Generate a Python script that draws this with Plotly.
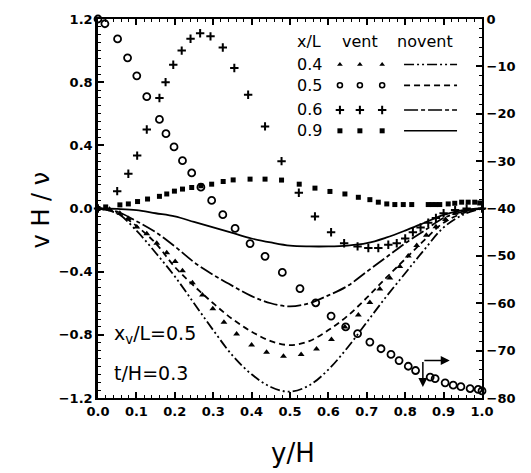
import plotly.graph_objects as go

# ---- vent data (symbols) ----
tri_x = [0.0, 0.03, 0.057, 0.079, 0.101, 0.127, 0.153, 0.179, 0.201, 0.220, 0.246, 0.272, 0.299, 0.328,
         0.361, 0.400, 0.439, 0.483, 0.529, 0.569, 0.608, 0.643, 0.678, 0.708, 0.734, 0.760, 0.786, 0.808,
         0.830, 0.855, 0.880, 0.905, 0.930, 0.960, 1.0]
tri_y = [0.0, -0.005, -0.03, -0.064, -0.117, -0.16, -0.22, -0.28, -0.335, -0.394, -0.47, -0.548, -0.635,
         -0.72, -0.795, -0.865, -0.91, -0.935, -0.925, -0.89, -0.83, -0.75, -0.675, -0.596, -0.51, -0.44,
         -0.367, -0.30, -0.235, -0.17, -0.115, -0.07, -0.03, -0.01, 0.0]

# x/L = 0.5 vent, read on the right-hand axis
circ_x = [0.0, 0.018, 0.051, 0.077, 0.101, 0.127, 0.160, 0.177, 0.198, 0.220, 0.244, 0.268, 0.296, 0.325,
          0.357, 0.396, 0.435, 0.480, 0.526, 0.567, 0.607, 0.645, 0.676, 0.708, 0.737, 0.763, 0.784, 0.808,
          0.827, 0.865, 0.878, 0.904, 0.925, 0.945, 0.969, 0.990, 1.0]
circ_y = [0.0, -1.0, -4.2, -8.2, -12.0, -16.4, -21.2, -24.2, -27.0, -29.9, -32.5, -35.5, -38.3, -41.3,
          -44.2, -47.4, -50.1, -53.5, -56.9, -59.9, -62.7, -65.0, -66.4, -68.2, -69.6, -70.8, -72.1, -73.3,
          -74.2, -75.6, -75.9, -76.8, -77.3, -77.6, -78.0, -78.2, -78.5]

plus_x = [0.0, 0.05, 0.079, 0.102, 0.127, 0.160, 0.176, 0.196, 0.218, 0.241, 0.266, 0.293, 0.325, 0.355,
          0.391, 0.435, 0.478, 0.523, 0.565, 0.607, 0.641, 0.676, 0.704, 0.730, 0.756, 0.778, 0.800, 0.820,
          0.840, 0.860, 0.880, 0.900, 0.930, 0.960, 1.0]
plus_y = [0.0, 0.11, 0.22, 0.335, 0.50, 0.70, 0.80, 0.91, 1.00, 1.075, 1.11, 1.09, 1.02, 0.89, 0.72, 0.52,
          0.30, 0.10, -0.05, -0.15, -0.22, -0.24, -0.25, -0.25, -0.23, -0.22, -0.19, -0.15, -0.12, -0.09,
          -0.06, -0.03, -0.01, 0.0, 0.0]

sq_x = [0.0, 0.02, 0.057, 0.079, 0.103, 0.129, 0.160, 0.179, 0.199, 0.220, 0.244, 0.268, 0.296, 0.326,
        0.352, 0.396, 0.435, 0.478, 0.524, 0.565, 0.604, 0.643, 0.678, 0.708, 0.730, 0.752, 0.773, 0.795,
        0.817, 0.860, 0.870, 0.880, 0.890, 0.912, 0.929, 0.947, 0.964, 0.981, 0.994]
sq_y = [0.0, 0.01, 0.023, 0.029, 0.044, 0.06, 0.077, 0.092, 0.11, 0.123, 0.133, 0.144, 0.154, 0.171,
        0.181, 0.186, 0.186, 0.18, 0.154, 0.129, 0.108, 0.092, 0.071, 0.056, 0.04, 0.029, 0.025, 0.025,
        0.025, 0.025, 0.025, 0.025, 0.025, 0.029, 0.033, 0.04, 0.04, 0.04, 0.035]

# ---- no-vent data (lines) ----
line_x = [0.0, 0.05, 0.1, 0.15, 0.2, 0.25, 0.3, 0.35, 0.4, 0.45, 0.5, 0.55, 0.6, 0.65, 0.7, 0.75, 0.8,
          0.85, 0.9, 0.95, 1.0]
nv04 = [0.0, -0.03, -0.14, -0.28, -0.43, -0.60, -0.77, -0.93, -1.05, -1.13, -1.16, -1.12, -1.02, -0.88,
        -0.72, -0.56, -0.41, -0.26, -0.12, -0.04, 0.0]
nv05 = [0.0, -0.03, -0.11, -0.22, -0.37, -0.49, -0.60, -0.70, -0.78, -0.84, -0.865, -0.84, -0.77, -0.68,
        -0.565, -0.44, -0.32, -0.20, -0.09, -0.03, 0.0]
nv06 = [0.0, -0.02, -0.08, -0.15, -0.24, -0.34, -0.42, -0.49, -0.555, -0.60, -0.62, -0.60, -0.55, -0.49,
        -0.40, -0.31, -0.22, -0.14, -0.06, -0.02, 0.0]
nv09 = [0.0, -0.003, -0.01, -0.03, -0.05, -0.085, -0.12, -0.155, -0.19, -0.215, -0.235, -0.24, -0.24,
        -0.235, -0.22, -0.185, -0.14, -0.09, -0.04, -0.01, 0.0]

legend_labels = ["0.4", "0.5", "0.6", "0.9"]

DASH04 = "10px,3px,2px,3px,2px,3px"
DASH05 = "6px,4px"
DASH06 = "14px,3px,4px,3px"
BLACK = "black"
FONT = "DejaVu Sans"

fig = go.Figure()

for yv, dash in [(nv04, DASH04), (nv05, DASH05), (nv06, DASH06), (nv09, "solid")]:
    fig.add_trace(go.Scatter(x=line_x, y=yv, mode="lines", line=dict(color=BLACK, width=1.8, dash=dash,
                                                                       shape="spline")))

fig.add_trace(go.Scatter(x=tri_x, y=tri_y, mode="markers", cliponaxis=False,
                         marker=dict(symbol="triangle-up", size=6, color=BLACK)))
fig.add_trace(go.Scatter(x=plus_x, y=plus_y, mode="markers", cliponaxis=False,
                         marker=dict(symbol="cross-thin", size=6, color=BLACK,
                                     line=dict(color=BLACK, width=2))))
fig.add_trace(go.Scatter(x=sq_x, y=sq_y, mode="markers", cliponaxis=False,
                         marker=dict(symbol="square", size=5, color=BLACK)))
fig.add_trace(go.Scatter(x=circ_x, y=circ_y, yaxis="y2", mode="markers", cliponaxis=False,
                         marker=dict(symbol="circle-open", size=7, color=BLACK,
                                     line=dict(color=BLACK, width=1.8))))

# ---- legend block (overlay axes in plot-area fractions) ----
row_y = [0.880, 0.825, 0.760, 0.705]
key_x = [0.630, 0.682, 0.740]
key_styles = [dict(symbol="triangle-up", size=5, color=BLACK),
              dict(symbol="circle-open", size=5, color=BLACK, line=dict(color=BLACK, width=1.6)),
              dict(symbol="cross-thin", size=6, color=BLACK, line=dict(color=BLACK, width=2)),
              dict(symbol="square", size=5, color=BLACK)]
key_dash = [DASH04, DASH05, DASH06, "solid"]
for ry, ms, dash, lab in zip(row_y, key_styles, key_dash, legend_labels):
    fig.add_trace(go.Scatter(x=key_x, y=[ry] * 3, xaxis="x3", yaxis="y3", mode="markers", marker=ms))
    fig.add_shape(type="line", xref="paper", yref="paper", x0=0.797, x1=0.935, y0=ry, y1=ry,
                  line=dict(color=BLACK, width=1.6, dash=dash))
    fig.add_annotation(x=0.513, y=ry, xref="paper", yref="paper", text=lab, showarrow=False,
                       xanchor="left", yanchor="middle", font=dict(family=FONT, size=16, color=BLACK))

for txt, xp in [("x/L", 0.513), ("vent", 0.630), ("novent", 0.773)]:
    fig.add_annotation(x=xp, y=0.940, xref="paper", yref="paper", text=txt, showarrow=False,
                       xanchor="left", yanchor="middle", font=dict(family=FONT, size=16, color=BLACK))

# ---- in-plot notes ----
fig.add_annotation(x=0.036, y=0.167, xref="paper", yref="paper", text="x<sub>v</sub>/L=0.5",
                   showarrow=False, xanchor="left", yanchor="middle",
                   font=dict(family=FONT, size=19, color=BLACK))
fig.add_annotation(x=0.036, y=0.065, xref="paper", yref="paper", text="t/H=0.3",
                   showarrow=False, xanchor="left", yanchor="middle",
                   font=dict(family=FONT, size=19, color=BLACK))

# pointer to the right-hand axis for the circle series
fig.add_annotation(x=0.846, y=-77.7, ax=0.846, ay=-72.1, xref="x", yref="y2", axref="x", ayref="y2",
                   text="", showarrow=True, arrowhead=2, arrowsize=1.2, arrowwidth=1.5, arrowcolor=BLACK)
fig.add_annotation(x=0.916, y=-72.1, ax=0.846, ay=-72.1, xref="x", yref="y2", axref="x", ayref="y2",
                   text="", showarrow=True, arrowhead=2, arrowsize=1.2, arrowwidth=1.5, arrowcolor=BLACK)

# ---- axis titles ----
fig.add_annotation(x=-0.19, y=0.495, xref="paper", yref="paper", text="v H / ν", textangle=-90,
                   showarrow=False, font=dict(family=FONT, size=24, color=BLACK))
fig.add_annotation(x=0.508, y=-0.145, xref="paper", yref="paper", text="y/H",
                   showarrow=False, yanchor="middle", font=dict(family=FONT, size=26, color=BLACK))

tickfont = dict(family=FONT, size=13, color=BLACK, weight="bold")
fig.update_layout(
    width=531, height=473,
    margin=dict(l=98, r=49, t=15, b=75),
    paper_bgcolor="white", plot_bgcolor="white",
    showlegend=False,
    xaxis=dict(range=[0, 1], dtick=0.1, tickformat=".1f", ticks="inside", ticklen=6, tickwidth=1.5,
               tickcolor=BLACK, showline=True, linewidth=2, linecolor=BLACK, mirror="ticks",
               showgrid=False, zeroline=False, tickfont=tickfont,
               minor=dict(dtick=0.02, ticks="inside", ticklen=3, tickcolor=BLACK, tickwidth=1)),
    yaxis=dict(range=[-1.2, 1.2], dtick=0.4, tickformat=".1f", ticks="inside", ticklen=6, tickwidth=1.5,
               tickcolor=BLACK, showline=True, linewidth=2.5, linecolor=BLACK, showgrid=False,
               zeroline=False, tickfont=tickfont,
               minor=dict(dtick=0.05, ticks="inside", ticklen=3, tickcolor=BLACK, tickwidth=1)),
    yaxis2=dict(range=[-80, 0], dtick=10, overlaying="y", side="right", ticks="inside", ticklen=6,
                tickwidth=1.5, tickcolor=BLACK, showline=True, linewidth=2, linecolor=BLACK,
                showgrid=False, zeroline=False, tickfont=tickfont,
                minor=dict(dtick=2, ticks="inside", ticklen=3, tickcolor=BLACK, tickwidth=1)),
    xaxis3=dict(range=[0, 1], overlaying="x", visible=False, fixedrange=True),
    yaxis3=dict(range=[0, 1], overlaying="y", visible=False, fixedrange=True),
)

fig.write_html("out.html")
